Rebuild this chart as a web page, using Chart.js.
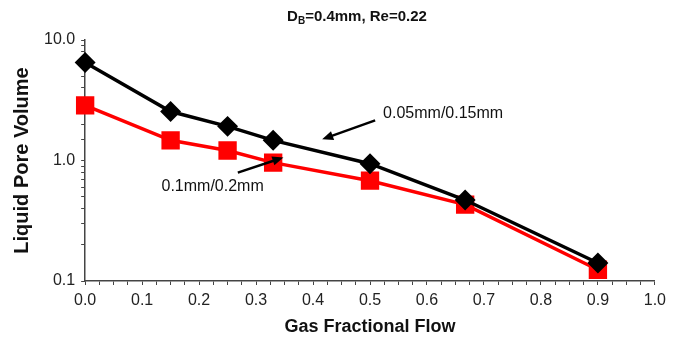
<!DOCTYPE html>
<html>
<head>
<meta charset="utf-8">
<script src="https://cdn.jsdelivr.net/npm/chart.js@4"></script>
<style>
  body { margin: 0; background: #fff; }
  #wrap { position: relative; width: 674px; height: 342px; }
  #title { position: absolute; top: 7px; left: 0; width: 674px; text-align: center; line-height: 18px;
    font: bold 15px "Liberation Sans", Arial, sans-serif; color: #111; padding-left: 40px; box-sizing: border-box; }
  #title sub { font-size: 10px; vertical-align: -3px; line-height: 0; }
</style>
</head>
<body>
<div id="wrap">
  <canvas id="chart" width="674" height="342"></canvas>
  <div id="title">D<sub>B</sub>=0.4mm, Re=0.22</div>
</div>
<script>
// gas fractional flow (x)
const gasFlow = [0.0, 0.15, 0.25, 0.33, 0.5, 0.667, 0.9];
// liquid pore volume, 0.05mm/0.15mm
const lpvSmall = [6.5, 2.55, 1.92, 1.47, 0.94, 0.47, 0.141];
// liquid pore volume, 0.1mm/0.2mm
const lpvLarge = [2.87, 1.47, 1.21, 0.96, 0.68, 0.43, 0.124];

const yMajor = [0.1, 1, 10];

// annotation labels and arrows, in data units
const notes = [
	{ text: "0.05mm/0.15mm", tx: 0.523, ty: 2.46, from: [0.509, 2.15], to: [0.416, 1.5] },
	{ text: "0.1mm/0.2mm", tx: 0.134, ty: 0.607, from: [0.268, 0.794], to: [0.348, 1.06] },
];

const toPts = (ys) => ys.map((y, i) => ({ x: gasFlow[i], y: y }));

const notePlugin = {
	id: "notes",
	afterDatasetsDraw(chart) {
		const { ctx, scales } = chart;
		const sx = scales.x, sy = scales.y;
		ctx.save();
		ctx.font = "16px 'Liberation Sans', Arial, sans-serif";
		ctx.textBaseline = "middle";
		notes.forEach((n) => {
			ctx.fillStyle = "#111";
			ctx.fillText(n.text, sx.getPixelForValue(n.tx), sy.getPixelForValue(n.ty));
			const x1 = sx.getPixelForValue(n.from[0]), y1 = sy.getPixelForValue(n.from[1]);
			const x2 = sx.getPixelForValue(n.to[0]), y2 = sy.getPixelForValue(n.to[1]);
			const a = Math.atan2(y2 - y1, x2 - x1);
			ctx.strokeStyle = "#000";
			ctx.lineWidth = 2.5;
			ctx.beginPath();
			ctx.moveTo(x1, y1);
			ctx.lineTo(x2 - 8 * Math.cos(a), y2 - 8 * Math.sin(a));
			ctx.stroke();
			ctx.beginPath();
			ctx.moveTo(x2, y2);
			ctx.lineTo(x2 - 12 * Math.cos(a - 0.4), y2 - 12 * Math.sin(a - 0.4));
			ctx.lineTo(x2 - 12 * Math.cos(a + 0.4), y2 - 12 * Math.sin(a + 0.4));
			ctx.closePath();
			ctx.fillStyle = "#000";
			ctx.fill();
		});
		ctx.restore();
	},
};

const tickFont = { family: "'Liberation Sans', Arial, sans-serif", size: 16, lineHeight: 1 };

new Chart(document.getElementById("chart"), {
	type: "scatter",
	data: {
		datasets: [
			{
				label: "0.05mm/0.15mm",
				data: toPts(lpvSmall),
				showLine: true,
				clip: false,
				borderColor: "#000",
				backgroundColor: "#000",
				borderWidth: 3.5,
				pointStyle: "rectRot",
				pointRadius: 8,
				pointHoverRadius: 8,
			},
			{
				label: "0.1mm/0.2mm",
				data: toPts(lpvLarge),
				showLine: true,
				clip: false,
				borderColor: "#ff0000",
				backgroundColor: "#ff0000",
				borderWidth: 3.5,
				pointStyle: "rect",
				pointRadius: 10.5,
				pointHoverRadius: 10.5,
			},
		],
	},
	options: {
		responsive: false,
		animation: false,
		layout: { padding: { top: 40, right: 7, left: 6, bottom: 6 } },
		plugins: { legend: { display: false }, tooltip: { enabled: false } },
		scales: {
			x: {
				type: "linear",
				min: 0,
				max: 1,
				grid: { display: true, drawOnChartArea: false, tickLength: 4, color: "#444" },
				border: { color: "#444", width: 1.5 },
				ticks: {
					stepSize: 0.025,
					autoSkip: false,
					maxRotation: 0,
					color: "#222",
					font: tickFont,
					padding: 8,
					callback: (v) => (Math.abs(v * 10 - Math.round(v * 10)) < 1e-6 ? v.toFixed(1) : ""),
				},
				title: {
					display: true,
					text: "Gas Fractional Flow",
					color: "#111",
					font: { family: "'Liberation Sans', Arial, sans-serif", size: 18, weight: "bold", lineHeight: 1 },
					padding: { top: 1, bottom: 0 },
				},
			},
			y: {
				type: "logarithmic",
				min: 0.1,
				max: 10,
				grid: { display: true, drawOnChartArea: false, tickLength: 4, color: "#444" },
				border: { color: "#444", width: 1.5 },
				ticks: {
					autoSkip: false,
					color: "#222",
					font: tickFont,
					padding: 6,
					callback: (v) => (yMajor.some((m) => Math.abs(m - v) < 1e-9) ? v.toFixed(1) : ""),
				},
				title: {
					display: true,
					text: "Liquid Pore Volume",
					color: "#111",
					font: { family: "'Liberation Sans', Arial, sans-serif", size: 20, weight: "bold" },
					padding: { bottom: 4 },
				},
			},
		},
	},
	plugins: [notePlugin],
});
</script>
</body>
</html>
